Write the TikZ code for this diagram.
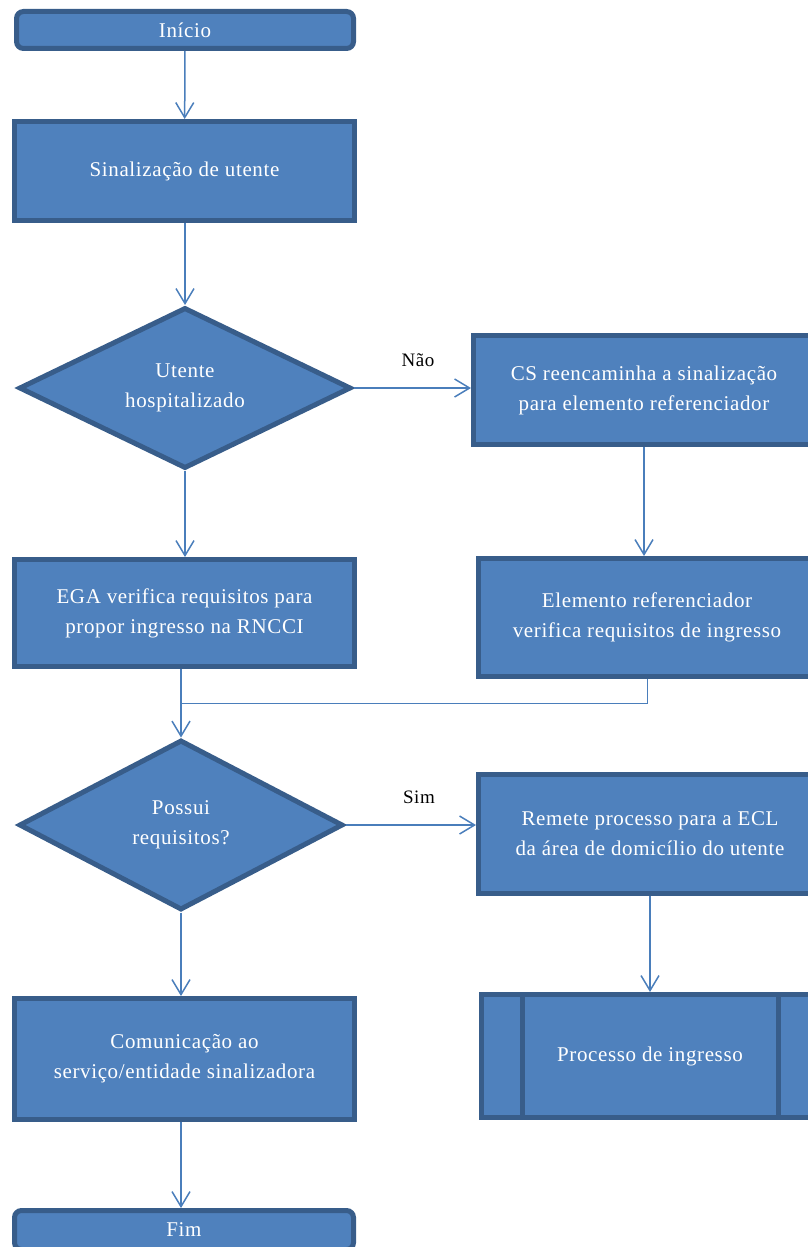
\documentclass[tikz,border=0pt]{standalone}
\usepackage{fontspec}
\setmainfont{Liberation Serif}[LetterSpace=3]
\usetikzlibrary{shapes.geometric,arrows.meta}
\definecolor{boxfill}{HTML}{4F81BD}
\definecolor{boxline}{HTML}{385D8A}
\definecolor{arrowline}{HTML}{4A7EBB}

\begin{document}
\begin{tikzpicture}[x=1pt,y=-1pt,>={Straight Barb[length=15pt,width=18pt]}]

\useasboundingbox (0,0) rectangle (808,1247);
\clip (0,0) rectangle (808,1247);

\begin{scope}[every node/.style={draw=boxline,fill=boxfill,line width=5pt,text=white,align=center,inner sep=0pt,font=\fontsize{21}{30}\selectfont}]
	%Column 1
	\node[rounded corners=7pt,minimum width=337pt,minimum height=37pt] (inicio) at (185, 30) {Início};
	\node[minimum width=340pt,minimum height=99pt] (sinal) at (184.5, 171) {Sinalização de utente};
	\node[diamond,aspect=2,minimum width=332pt,minimum height=161pt] (hosp) at (185, 388) {Utente\\hospitalizado};
	\node[minimum width=340pt,minimum height=107pt] (ega) at (184.5, 613) {EGA verifica requisitos para\\propor ingresso na RNCCI};
	\node[diamond,aspect=2,minimum width=324pt,minimum height=170pt] (req) at (181, 825) {Possui\\requisitos?};
	\node[minimum width=340pt,minimum height=121pt] (comun) at (184.5, 1059) {Comunicação ao\\serviço/entidade sinalizadora};
	\node[rounded corners=7pt,minimum width=339pt,minimum height=39pt] (fim) at (184, 1230) {Fim};
	
	%Column 2
	\node[minimum width=341pt,minimum height=109pt] (cs) at (644, 390) {CS reencaminha a sinalização\\para elemento referenciador};
	\node[minimum width=337pt,minimum height=118pt] (elem) at (647, 617.5) {Elemento referenciador\\verifica requisitos de ingresso};
	\node[minimum width=343pt,minimum height=119pt] (remete) at (650, 834) {Remete processo para a ECL\\da área de domicílio do utente};
	\node[minimum width=337pt,minimum height=123pt] (proc) at (650, 1056) {Processo de ingresso};
\end{scope}

%Side bars of the predefined process
\draw[boxline,line width=5pt] ([xshift=43pt]proc.north west) -- ([xshift=43pt]proc.south west);
\draw[boxline,line width=5pt] ([xshift=-43pt]proc.north east) -- ([xshift=-43pt]proc.south east);

\begin{scope}[every node/.style={text=black,font=\fontsize{19}{23}\selectfont}]
	\node (nao) at (418, 360) {Não};
	\node (sim) at (419, 797) {Sim};
\end{scope}

\coordinate (join) at (181, 703);

\begin{scope}[style={draw=arrowline,line width=1.5pt}]
	%Column 1
	\path [->] (inicio) edge (sinal);
	\path [->] (sinal.south -| hosp.north) edge (hosp.north);
	\path [->] (hosp.south) edge (hosp.south |- ega.north);
	\path [->] (ega.south -| req.north) edge (req.north);
	\path [->] (req.south) edge (req.south |- comun.north);
	\path [->] (comun.south -| req.south) edge (req.south |- fim.north);
	
	%Across
	\path [->] (hosp.east) edge (hosp.east -| cs.west);
	\path [->] (req.east) edge (req.east -| remete.west);
	
	%Column 2
	\path [->] (cs.south) edge (cs.south |- elem.north);
	\path [->] (remete) edge (proc);
\end{scope}

\draw[arrowline,line width=1pt] (elem.south) |- (join);

\end{tikzpicture}
\end{document}
